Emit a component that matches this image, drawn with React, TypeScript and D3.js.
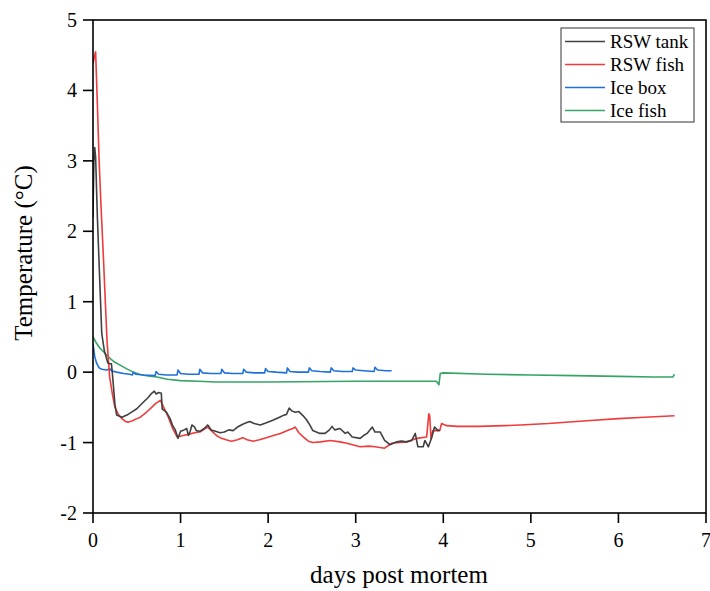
import React from "react";
import * as d3 from "d3";

const xTicks = [0, 1, 2, 3, 4, 5, 6, 7];
const yTicks = [-2, -1, 0, 1, 2, 3, 4, 5];

const seriesNames = ["RSW tank", "RSW fish", "Ice box", "Ice fish"];
const seriesColors = ["#404040", "#ef3b3b", "#1f6fdc", "#35a466"];

const tankX = [0.0, 0.01, 0.02, 0.03, 0.05, 0.08, 0.1, 0.13, 0.17, 0.19, 0.21, 0.22, 0.25, 0.27, 0.33, 0.4, 0.45, 0.5, 0.54, 0.58, 0.63, 0.67, 0.7, 0.72, 0.75, 0.78, 0.79, 0.84, 0.88, 0.91, 0.94, 0.97, 1.0, 1.04, 1.07, 1.09, 1.11, 1.13, 1.16, 1.18, 1.22, 1.27, 1.31, 1.35, 1.4, 1.45, 1.5, 1.55, 1.6, 1.65, 1.71, 1.75, 1.79, 1.84, 1.91, 1.98, 2.06, 2.13, 2.18, 2.21, 2.24, 2.27, 2.31, 2.35, 2.4, 2.44, 2.48, 2.51, 2.55, 2.59, 2.65, 2.7, 2.73, 2.76, 2.82, 2.88, 2.91, 2.96, 3.05, 3.09, 3.13, 3.19, 3.22, 3.28, 3.33, 3.39, 3.47, 3.52, 3.58, 3.64, 3.68, 3.71, 3.77, 3.79, 3.83, 3.87, 3.9, 3.94, 3.96];
const tankY = [2.2, 3.0, 3.19, 3.05, 2.2, 1.2, 0.55, 0.3, 0.13, 0.12, 0.12, 0.0, -0.45, -0.61, -0.64, -0.6, -0.56, -0.52, -0.47, -0.42, -0.36, -0.3, -0.27, -0.31, -0.29, -0.3, -0.52, -0.57, -0.66, -0.76, -0.82, -0.94, -0.84, -0.82, -0.8, -0.9, -0.84, -0.75, -0.78, -0.83, -0.84, -0.8, -0.75, -0.82, -0.84, -0.86, -0.85, -0.82, -0.83, -0.78, -0.74, -0.72, -0.7, -0.73, -0.75, -0.72, -0.68, -0.64, -0.61, -0.6, -0.51, -0.55, -0.57, -0.56, -0.62, -0.68, -0.76, -0.83, -0.85, -0.87, -0.87, -0.82, -0.77, -0.82, -0.8, -0.87, -0.85, -0.92, -0.94, -0.9, -0.87, -0.78, -0.85, -0.85, -0.97, -1.03, -0.99, -0.98, -0.99, -0.97, -0.87, -1.06, -1.06, -0.97, -1.06, -0.92, -0.78, -0.83, -0.82];

const fishX = [0.0, 0.02, 0.03, 0.05, 0.07, 0.09, 0.12, 0.14, 0.16, 0.19, 0.22, 0.25, 0.29, 0.33, 0.37, 0.4, 0.45, 0.5, 0.54, 0.61, 0.67, 0.72, 0.77, 0.8, 0.86, 0.91, 0.96, 1.03, 1.1, 1.16, 1.22, 1.26, 1.31, 1.36, 1.41, 1.45, 1.52, 1.58, 1.65, 1.71, 1.76, 1.83, 1.9, 1.98, 2.06, 2.14, 2.22, 2.28, 2.31, 2.35, 2.4, 2.46, 2.51, 2.6, 2.71, 2.82, 2.9, 3.05, 3.15, 3.22, 3.33, 3.41, 3.5, 3.58, 3.7, 3.81, 3.835, 3.845, 3.86, 3.88, 3.96, 3.98, 4.04, 4.16, 4.4, 4.7, 4.88, 5.2, 5.64, 6.0, 6.3, 6.64];
const fishY = [4.38, 4.5, 4.55, 3.8, 3.0, 2.4, 1.6, 1.02, 0.45, -0.07, -0.3, -0.5, -0.6, -0.66, -0.7, -0.71, -0.69, -0.66, -0.64, -0.57, -0.5, -0.44, -0.4, -0.48, -0.64, -0.8, -0.92, -0.9, -0.88, -0.86, -0.85, -0.82, -0.78, -0.84, -0.9, -0.93, -0.96, -0.98, -0.96, -0.93, -0.96, -0.98, -0.96, -0.93, -0.9, -0.87, -0.83, -0.8, -0.78, -0.86, -0.92, -0.98, -1.0, -0.99, -0.97, -0.99, -1.01, -1.06, -1.05, -1.06, -1.08, -1.01, -1.0, -0.99, -0.94, -0.92, -0.59, -0.62, -0.95, -0.83, -0.83, -0.73, -0.76, -0.77, -0.77, -0.76, -0.75, -0.73, -0.69, -0.66, -0.64, -0.62];

const boxX = [0.0, 0.02, 0.04, 0.07, 0.1, 0.16, 0.19, 0.21, 0.27, 0.35, 0.42, 0.45, 0.46, 0.49, 0.58, 0.71, 0.72, 0.75, 0.84, 0.96, 0.97, 1.0, 1.09, 1.21, 1.22, 1.25, 1.34, 1.46, 1.47, 1.5, 1.59, 1.71, 1.72, 1.75, 1.84, 1.96, 1.97, 2.0, 2.09, 2.21, 2.22, 2.25, 2.34, 2.46, 2.47, 2.5, 2.59, 2.71, 2.72, 2.75, 2.84, 2.96, 2.97, 3.0, 3.09, 3.21, 3.22, 3.25, 3.34, 3.41];
const boxY = [0.4, 0.22, 0.13, 0.06, 0.04, 0.03, 0.05, 0.02, 0.0, -0.02, -0.03, -0.04, 0.0, -0.03, -0.04, -0.05, 0.01, -0.03, -0.04, -0.04, 0.03, -0.02, -0.03, -0.03, 0.04, -0.01, -0.02, -0.02, 0.04, -0.01, -0.02, -0.02, 0.04, 0.0, -0.01, -0.01, 0.05, 0.01, 0.0, -0.01, 0.06, 0.01, 0.0, 0.0, 0.06, 0.02, 0.01, 0.0, 0.06, 0.02, 0.01, 0.01, 0.06, 0.03, 0.02, 0.01, 0.07, 0.03, 0.02, 0.02];

const iceFishX = [0.0, 0.04, 0.08, 0.12, 0.16, 0.2, 0.25, 0.31, 0.38, 0.46, 0.53, 0.61, 0.73, 0.85, 1.0, 1.2, 1.4, 2.0, 3.0, 3.92, 3.95, 3.965, 4.0, 4.5, 5.0, 5.5, 6.0, 6.4, 6.62, 6.64];
const iceFishY = [0.5, 0.41, 0.34, 0.29, 0.24, 0.19, 0.14, 0.1, 0.05, 0.0, -0.03, -0.05, -0.07, -0.1, -0.12, -0.13, -0.14, -0.14, -0.13, -0.13, -0.18, -0.02, -0.01, -0.03, -0.04, -0.05, -0.06, -0.07, -0.07, -0.03];

const W = 710;
const H = 591;
const M = { left: 93, right: 706, top: 20, bottom: 513 };
const FONT = "'Liberation Serif', 'Times New Roman', serif";

export default function App() {
  const x = d3.scaleLinear().domain([0, 7]).range([M.left, M.right]);
  const y = d3.scaleLinear().domain([-2, 5]).range([M.bottom, M.top]);
  const line = d3
    .line<[number, number]>()
    .x((d) => x(d[0]))
    .y((d) => y(d[1]));

  const series: [number[], number[]][] = [
    [tankX, tankY],
    [fishX, fishY],
    [boxX, boxY],
    [iceFishX, iceFishY],
  ];
  const order = [3, 2, 1, 0];
  const legendRows = [48, 71, 94, 117];

  return (
    <svg
      width={W}
      height={H}
      style={{ position: "absolute", left: 0, top: 0, background: "#fff" }}
      fontFamily={FONT}
    >
      <rect x={0} y={0} width={W} height={H} fill="#fff" />
      <defs>
        <clipPath id="plotclip">
          <rect x={M.left} y={M.top} width={M.right - M.left} height={M.bottom - M.top} />
        </clipPath>
      </defs>
      <g clipPath="url(#plotclip)">
        {order.map((i) => {
          const [xs, ys] = series[i];
          const pts = xs.map((v, k) => [v, ys[k]] as [number, number]);
          return (
            <path
              key={i}
              d={line(pts) || ""}
              fill="none"
              stroke={seriesColors[i]}
              strokeWidth={1.6}
              strokeLinejoin="round"
            />
          );
        })}
      </g>
      <rect
        x={M.left}
        y={M.top}
        width={M.right - M.left}
        height={M.bottom - M.top}
        fill="none"
        stroke="#000"
        strokeWidth={1.6}
      />
      {xTicks.map((t) => (
        <g key={"x" + t}>
          <line x1={x(t)} x2={x(t)} y1={M.bottom} y2={M.bottom + 10} stroke="#000" strokeWidth={1.6} />
          <text x={x(t)} y={M.bottom + 34} textAnchor="middle" fontSize={20} fill="#000">
            {t}
          </text>
        </g>
      ))}
      {yTicks.map((t) => (
        <g key={"y" + t}>
          <line x1={M.left - 10} x2={M.left} y1={y(t)} y2={y(t)} stroke="#000" strokeWidth={1.6} />
          <text x={M.left - 16} y={y(t) + 7} textAnchor="end" fontSize={20} fill="#000">
            {t}
          </text>
        </g>
      ))}
      <text x={399} y={583} textAnchor="middle" fontSize={25} fill="#000">
        days post mortem
      </text>
      <text transform={`translate(32, 253) rotate(-90)`} textAnchor="middle" fontSize={25} fill="#000">
        Temperature (°C)
      </text>
      <rect x={561} y={28} width={133} height={94} fill="#fff" stroke="#333" strokeWidth={1} />
      {seriesNames.map((n, i) => (
        <g key={n}>
          <line
            x1={565}
            x2={605}
            y1={legendRows[i] - 6.5}
            y2={legendRows[i] - 6.5}
            stroke={seriesColors[i]}
            strokeWidth={1.6}
          />
          <text x={610} y={legendRows[i]} fontSize={19} fill="#000">
            {n}
          </text>
        </g>
      ))}
    </svg>
  );
}
